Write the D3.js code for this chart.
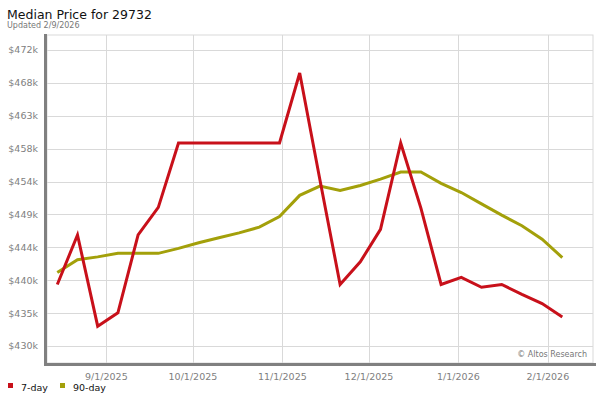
<!DOCTYPE html>
<html>
<head>
<meta charset="utf-8">
<script src="https://cdn.jsdelivr.net/npm/d3@7/dist/d3.min.js"></script>
<style>
	body { margin: 0; background: #fff; }
	text { font-family: "DejaVu Sans", Verdana, sans-serif; }
</style>
</head>
<body>
<svg id="chart" width="600" height="400"></svg>
<script>
// weekly points
var dates = ["2025-08-15", "2025-08-22", "2025-08-29", "2025-09-05", "2025-09-12", "2025-09-19", "2025-09-26",
	"2025-10-03", "2025-10-10", "2025-10-17", "2025-10-24", "2025-10-31", "2025-11-07", "2025-11-14",
	"2025-11-21", "2025-11-28", "2025-12-05", "2025-12-12", "2025-12-19", "2025-12-26", "2026-01-02",
	"2026-01-09", "2026-01-16", "2026-01-23", "2026-01-30", "2026-02-06"];
var sevenDay = [439500, 446500, 433600, 435500, 446500, 450400, 459500, 459500, 459500, 459500, 459500, 459500,
	469400, 454300, 439500, 442700, 447300, 459500, 450300, 439500, 440500, 439100, 439500, 438100, 436800, 434900];
var ninetyDay = [441200, 443000, 443400, 443900, 443900, 443900, 444600, 445400, 446100, 446800, 447600, 449100,
	452100, 453400, 452800, 453500, 454400, 455400, 455400, 453800, 452500, 450900, 449300, 447800, 445900, 443300];
var yTicks = [430800, 435450, 440100, 444750, 449400, 454050, 458700, 463350, 468000, 472650];
var xTicks = ["2025-09-01", "2025-10-01", "2025-11-01", "2025-12-01", "2026-01-01", "2026-02-01"];
var series = [
	{ name: "7-day", values: sevenDay, color: "#c8101a" },
	{ name: "90-day", values: ninetyDay, color: "#a3a00a" }
];

var	parse	= d3.timeParse("%Y-%m-%d"),
	fmtDate	= d3.timeFormat("%-m/%-d/%Y"),
	plot	= { left: 47, right: 593, top: 35, bottom: 363 },
	svg	= d3.select("#chart");

var x = d3.scaleTime().domain(d3.extent(dates, parse)).range([57.3, 562.3]);
var y = d3.scaleLinear().domain([yTicks[0], yTicks[yTicks.length - 1]]).range([346, 50]);

// title
svg.append("text").attr("x", 7).attr("y", 18.5).style("font-size", "12.5px").attr("fill", "#111")
	.text("Median Price for 29732");
svg.append("text").attr("x", 7).attr("y", 27.5).style("font-size", "8px").attr("fill", "#777")
	.text("Updated 2/9/2026");

// frame + grid
svg.append("rect").attr("x", plot.left).attr("y", plot.top)
	.attr("width", plot.right - plot.left).attr("height", plot.bottom - plot.top)
	.attr("fill", "none").attr("stroke", "#d9d9d9");

svg.append("g").attr("class", "y grid")
	.selectAll("line").data(yTicks).enter().append("line")
	.attr("x1", plot.left).attr("x2", plot.right)
	.attr("y1", function(d) { return Math.round(y(d)) + 0.5; })
	.attr("y2", function(d) { return Math.round(y(d)) + 0.5; })
	.attr("stroke", "#d9d9d9");

svg.append("g").attr("class", "x grid")
	.selectAll("line").data(xTicks).enter().append("line")
	.attr("x1", function(d) { return Math.round(x(parse(d))) + 0.5; })
	.attr("x2", function(d) { return Math.round(x(parse(d))) + 0.5; })
	.attr("y1", plot.top).attr("y2", plot.bottom)
	.attr("stroke", "#d9d9d9");

// axis labels
svg.append("g").attr("class", "y axis")
	.selectAll("text").data(yTicks).enter().append("text")
	.attr("x", 38).attr("y", function(d) { return y(d); })
	.attr("dy", "0.36em").attr("text-anchor", "end")
	.style("font-size", "9.5px").attr("fill", "#808080")
	.text(function(d) { return "$" + Math.floor(d / 1000) + "k"; });

svg.append("g").attr("class", "x axis")
	.selectAll("text").data(xTicks).enter().append("text")
	.attr("x", function(d) { return x(parse(d)); }).attr("y", 380)
	.attr("text-anchor", "middle")
	.style("font-size", "9.5px").attr("fill", "#808080")
	.text(function(d) { return fmtDate(parse(d)); });

// heavy axis bars
svg.append("rect").attr("x", 44).attr("y", 34).attr("width", 3).attr("height", 332).attr("fill", "#808080");
svg.append("rect").attr("x", 44).attr("y", 363).attr("width", 552).attr("height", 3).attr("fill", "#808080");

svg.append("text").attr("x", 587).attr("y", 357).attr("text-anchor", "end")
	.style("font-size", "8px").attr("fill", "#777").text("\u00a9 Altos Research");

// lines (90-day under 7-day)
var line = d3.line()
	.x(function(d, i) { return x(parse(dates[i])); })
	.y(function(d) { return y(d); });

svg.append("g").attr("class", "lines")
	.selectAll("path").data(series.slice().reverse()).enter().append("path")
	.attr("d", function(s) { return line(s.values); })
	.attr("fill", "none")
	.attr("stroke", function(s) { return s.color; })
	.attr("stroke-width", 3);

// legend
var leg = svg.append("g").attr("class", "legend")
	.selectAll("g").data(series).enter().append("g")
	.attr("transform", function(d, i) { return "translate(" + [8, 60][i] + ",383)"; });
leg.append("rect").attr("width", 5).attr("height", 5).attr("fill", function(d) { return d.color; });
leg.append("text").attr("x", 13).attr("y", 7.5).style("font-size", "9.5px").attr("fill", "#111")
	.text(function(d) { return d.name; });
</script>
</body>
</html>
